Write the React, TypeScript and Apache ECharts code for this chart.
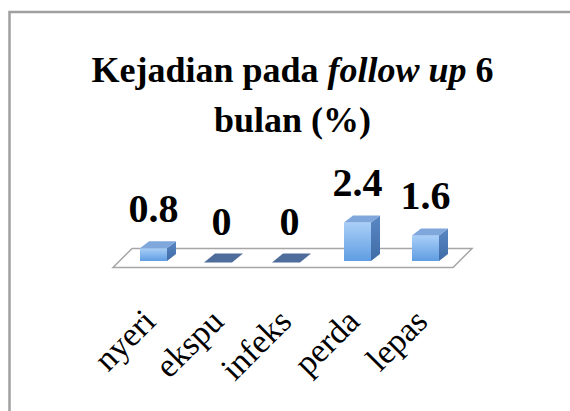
import React, { useEffect, useRef } from 'react';
import * as echarts from 'echarts';

const categories = ['nyeri', 'ekspu', 'infeks', 'perda', 'lepas'];
const values = [0.8, 0, 0, 2.4, 1.6];
const valueLabels = ['0.8', '0', '0', '2.4', '1.6'];
const titleLine1 = ['Kejadian pada ', 'follow up', ' 6'];
const titleLine2 = 'bulan (%)';

const SERIF = '"Liberation Serif", "Times New Roman", serif';

export default function App() {
  const ref = useRef<HTMLDivElement>(null);

  useEffect(() => {
    const chart = echarts.init(ref.current as HTMLDivElement, null, { renderer: 'svg' });
    const DX = 9;
    const DY = -7;
    const HALF = 13.5;
    const FF = 6.5;
    const FB = 12.5;

    const frontFill = new echarts.graphic.LinearGradient(0, 0, 0, 1, [
      { offset: 0, color: '#a9cff8' },
      { offset: 1, color: '#5f9de2' },
    ]);
    const sideFill = new echarts.graphic.LinearGradient(0, 0, 0, 1, [
      { offset: 0, color: '#5a88c4' },
      { offset: 1, color: '#3f6ba6' },
    ]);
    const topFill = '#7fa7dc';
    const zeroFill = '#4f6d9b';

    const renderFloor = (params: any, api: any) => {
      const cs = params.coordSys;
      const x0 = cs.x;
      const x1 = cs.x + cs.width;
      const yb = cs.y + cs.height;
      return {
        type: 'polygon',
        shape: {
          points: [
            [x0 - FF, yb + FF],
            [x1 - FF, yb + FF],
            [x1 + FB, yb - FB],
            [x0 + FB, yb - FB],
          ],
        },
        style: { fill: '#ffffff', stroke: '#a6a6a6', lineWidth: 1.5 },
        silent: true,
      };
    };

    const renderBar = (params: any, api: any) => {
      const idx = params.dataIndex;
      const v = api.value(1);
      const base = api.coord([api.value(0), 0]);
      const top = api.coord([api.value(0), v]);
      const cx = base[0];
      const by = base[1];
      const ty = top[1];
      const l = cx - HALF;
      const r = cx + HALF;
      const children: any[] = [];
      if (v > 0) {
        children.push({
          type: 'rect',
          shape: { x: l, y: ty, width: r - l, height: by - ty },
          style: { fill: frontFill },
        });
        children.push({
          type: 'polygon',
          shape: { points: [[r, ty], [r + DX, ty + DY], [r + DX, by + DY], [r, by]] },
          style: { fill: sideFill },
        });
        children.push({
          type: 'polygon',
          shape: { points: [[l, ty], [r, ty], [r + DX, ty + DY], [l + DX, ty + DY]] },
          style: { fill: topFill },
        });
      } else {
        children.push({
          type: 'polygon',
          shape: { points: [[l - 4, by + 1.5], [r - 3, by + 1.5], [r + 8, by - 7.5], [l + 7, by - 7.5]] },
          style: { fill: zeroFill },
        });
      }
      children.push({
        type: 'text',
        style: {
          text: valueLabels[idx],
          x: cx,
          y: ty - 40,
          align: 'center',
          verticalAlign: 'middle',
          fontSize: 40,
          fontWeight: 'bold',
          fontFamily: SERIF,
          fill: '#000000',
        },
      });
      return { type: 'group', children };
    };

    chart.setOption({
      animation: false,
      backgroundColor: '#ffffff',
      title: {
        text: `{b|${titleLine1[0]}}{i|${titleLine1[1]}}{b|${titleLine1[2]}}\n{b|${titleLine2}}`,
        left: 292.5,
        top: 45,
        padding: 0,
        textAlign: 'center',
        textStyle: {
          rich: {
            b: { fontSize: 36, fontWeight: 'bold', fontFamily: SERIF, color: '#000', lineHeight: 50 },
            i: { fontSize: 36, fontWeight: 'bold', fontStyle: 'italic', fontFamily: SERIF, color: '#000', lineHeight: 50 },
          },
        },
      },
      graphic: [
        {
          type: 'rect',
          silent: true,
          shape: { x: 9.5, y: 12, width: 700, height: 600 },
          style: { fill: 'none', stroke: '#a0a0a0', lineWidth: 2.5 },
        },
      ],
      grid: { left: 119.5, width: 340, bottom: 150, top: 197 },
      xAxis: {
        type: 'category',
        data: categories,
        axisLine: { show: false },
        axisTick: { show: false },
        splitLine: { show: false },
        axisLabel: {
          rotate: 45,
          interval: 0,
          margin: 50,
          padding: [0, 6, 0, 0],
          fontSize: 34,
          fontFamily: SERIF,
          color: '#000',
        },
      },
      yAxis: { type: 'value', min: 0, max: 4, show: false },
      series: [
        {
          type: 'custom',
          renderItem: renderFloor,
          data: [[0, 0]],
          silent: true,
          z: 1,
        },
        {
          type: 'custom',
          renderItem: renderBar,
          data: categories.map((c, i) => [i, values[i]]),
          z: 2,
        },
      ],
    });
    return () => chart.dispose();
  }, []);

  return (
    <div
      ref={ref}
      style={{ position: 'fixed', left: 0, top: 0, width: 570, height: 411 }}
    />
  );
}
